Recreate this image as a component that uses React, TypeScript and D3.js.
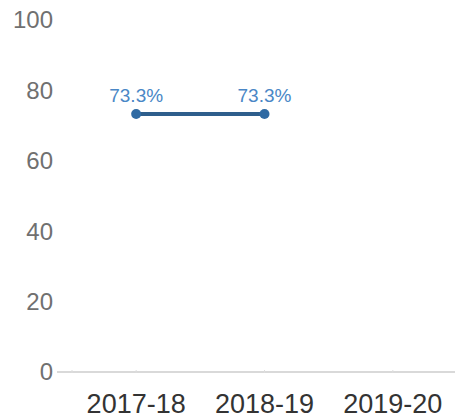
import React from "react";
import * as d3 from "d3";

const categories = ["2017-18", "2018-19", "2019-20"];
const values: (number | null)[] = [73.3, 73.3, null];
const yTicks = [0, 20, 40, 60, 80, 100];

export default function App() {
  const W = 455, H = 419;
  const x = d3.scaleBand<string>().domain(categories).range([72, 457]);
  const y = d3.scaleLinear().domain([0, 100]).range([372, 20]);
  const cx = (c: string) => (x(c) ?? 0) + x.bandwidth() / 2;
  const pts = categories
    .map((c, i) => ({ c, v: values[i] }))
    .filter((d) => d.v != null) as { c: string; v: number }[];
  const line = d3
    .line<{ c: string; v: number }>()
    .x((d) => cx(d.c))
    .y((d) => y(d.v));
  const font = "Arial, 'Liberation Sans', Helvetica, sans-serif";
  return (
    <svg
      width={W}
      height={H}
      style={{ position: "absolute", left: 0, top: 0 }}
      fontFamily={font}
    >
      <rect width={W} height={H} fill="#fff" />
      {yTicks.map((t) => (
        <text
          key={t}
          x={53}
          y={y(t)}
          dy="0.35em"
          textAnchor="end"
          fontSize={24}
          fill="#707070"
        >
          {t}
        </text>
      ))}
      <line x1={57} x2={455} y1={y(0)} y2={y(0)} stroke="#ccc" strokeWidth={1.5} />
      {[72, ...categories.map(cx)].map((xx, i) => (
        <line key={i} x1={xx} x2={xx} y1={y(0) - 2} y2={y(0) + 1} stroke="#ddd" />
      ))}
      {categories.map((c) => (
        <text
          key={c}
          x={cx(c)}
          y={413}
          textAnchor="middle"
          fontSize={27}
          fill="#333"
        >
          {c}
        </text>
      ))}
      <path d={line(pts) ?? ""} fill="none" stroke="#2e5e8c" strokeWidth={4} />
      {pts.map((d) => (
        <g key={d.c}>
          <circle cx={cx(d.c)} cy={y(d.v)} r={5} fill="#2f6aa3" />
          <text
            x={cx(d.c)}
            y={y(d.v) - 12}
            textAnchor="middle"
            fontSize={19}
            fill="#4a87c6"
          >
            {d.v.toFixed(1)}%
          </text>
        </g>
      ))}
    </svg>
  );
}
